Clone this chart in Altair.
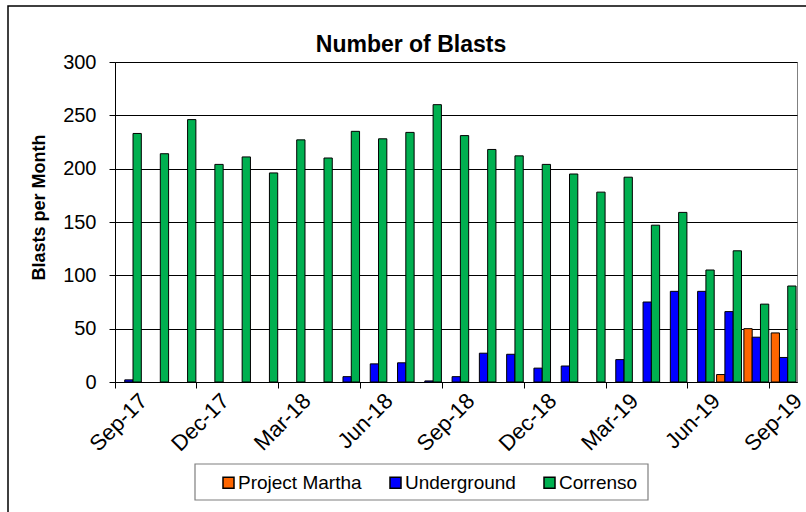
import altair as alt
import pandas as pd

months = ["Sep-17", "Oct-17", "Nov-17", "Dec-17", "Jan-18", "Feb-18", "Mar-18", "Apr-18",
          "May-18", "Jun-18", "Jul-18", "Aug-18", "Sep-18", "Oct-18", "Nov-18", "Dec-18",
          "Jan-19", "Feb-19", "Mar-19", "Apr-19", "May-19", "Jun-19", "Jul-19", "Aug-19", "Sep-19"]
martha = [0, 0, 0, 0, 0, 0, 0, 0, 0, 0, 0, 0, 0, 0, 0, 0, 0, 0, 0, 0, 0, 0, 7, 50, 46]
underground = [2, 0, 0, 0, 0, 0, 0, 0, 5, 17, 18, 1, 5, 27, 26, 13, 15, 0, 21, 75, 85, 85, 66, 42, 23]
correnso = [233, 214, 246, 204, 211, 196, 227, 210, 235, 228, 234, 260, 231, 218, 212, 204,
            195, 178, 192, 147, 159, 105, 123, 73, 90]
series = ["Project Martha", "Underground", "Correnso"]
colors = ["#FF6600", "#0000FF", "#00B050"]
tick_months = ["Sep-17", "Dec-17", "Mar-18", "Jun-18", "Sep-18", "Dec-18", "Mar-19", "Jun-19", "Sep-19"]
y_ticks = [0, 50, 100, 150, 200, 250, 300]
title_text = "Number of Blasts"

rows = []
for i, m in enumerate(months):
    for s, vals in zip(series, [martha, underground, correnso]):
        rows.append({"month": m, "series": s, "value": vals[i]})
df = pd.DataFrame(rows)

W, H = 682, 320
L, T = 115, 62

bars = alt.Chart(df).transform_filter("datum.value > 0").mark_bar(
    stroke="black", strokeWidth=1
).encode(
    x=alt.X("month:N", sort=months,
            scale=alt.Scale(domain=months, paddingInner=0, paddingOuter=0),
            axis=alt.Axis(values=tick_months, bandPosition=0, labelAngle=-45,
                          labelAlign="right", labelBaseline="middle", labelOffset=15,
                          labelPadding=9, tickSize=6, title=None, grid=False,
                          labelFontSize=22, domainColor="black", tickColor="black",
                          labelColor="black")),
    xOffset=alt.XOffset("series:N", sort=series,
                        scale=alt.Scale(domain=series, paddingInner=0, paddingOuter=0.145, align=0.6)),
    y=alt.Y("value:Q", scale=alt.Scale(domain=[0, 300]),
            axis=alt.Axis(values=y_ticks, title="Blasts per Month", grid=True,
                          gridColor="black", gridWidth=1, domainColor="black",
                          tickColor="black", tickSize=6, labelPadding=13, labelFontSize=20,
                          labelColor="black", titleFontSize=18, titleFontWeight="bold",
                          titleColor="black", titleX=-76, titleY=145, titleBaseline="middle")),
    color=alt.Color("series:N", sort=series,
                    scale=alt.Scale(domain=series, range=colors),
                    legend=alt.Legend(orient="none", legendX=104, legendY=411,
                                      direction="horizontal", title=None, symbolType="square",
                                      symbolSize=121, symbolStrokeColor="black",
                                      symbolStrokeWidth=1.5, labelFontSize=19,
                                      labelColor="black", columnPadding=24, labelOffset=0,
                                      padding=0)),
)

title = alt.Chart(alt.Data(values=[{}])).mark_text(
    fontSize=23, fontWeight="bold", color="black", align="center", baseline="alphabetic"
).encode(x=alt.value(411 - L), y=alt.value(52 - T), text=alt.value(title_text))

outer = alt.Chart(alt.Data(values=[{}])).mark_rect(
    fill="white", fillOpacity=0, stroke="black", strokeWidth=1.5
).encode(x=alt.value(8 - L), x2=alt.value(806 - L + 10),
         y=alt.value(6 - T), y2=alt.value(512 - T + 10))

legend_box = alt.Chart(alt.Data(values=[{}])).mark_rect(
    fill="white", fillOpacity=0, stroke="#7f7f7f", strokeWidth=1.2
).encode(x=alt.value(195 - L), x2=alt.value(648 - L),
         y=alt.value(464 - T), y2=alt.value(500 - T))

chart = alt.layer(bars, legend_box, outer, title).properties(
    width=W, height=H,
    padding={"left": L, "top": T, "right": 806 - L - W, "bottom": 512 - T - H},
    autosize=alt.AutoSizeParams(type="none"),
).configure(font="Liberation Sans", background="white").configure_view(
    stroke="#808080", strokeWidth=1
)

chart.save("out.html", embed_options={"renderer": "svg", "actions": False})
